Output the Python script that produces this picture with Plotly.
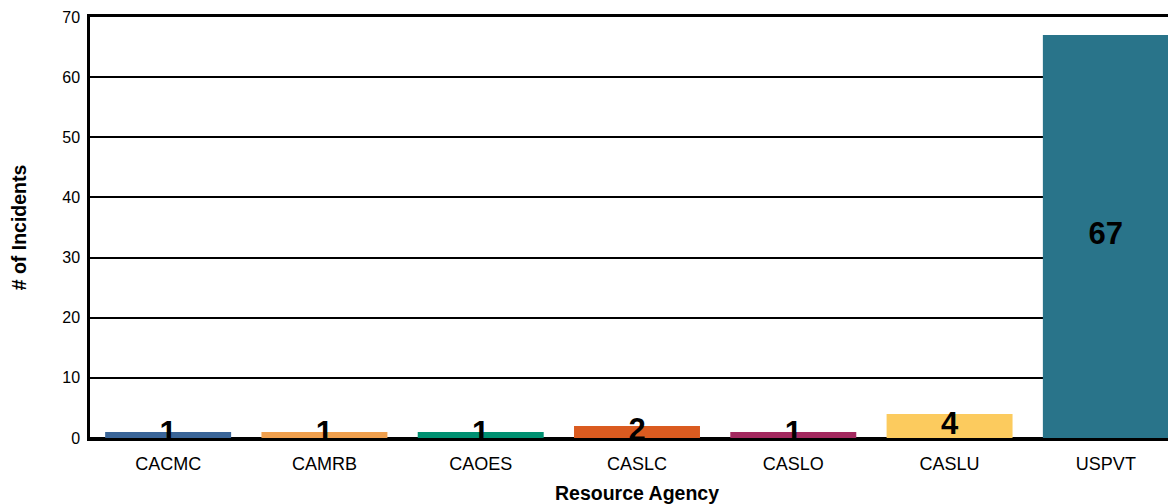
import plotly.graph_objects as go

categories = ["CACMC", "CAMRB", "CAOES", "CASLC", "CASLO", "CASLU", "USPVT"]
values = [1, 1, 1, 2, 1, 4, 67]
colors = ["#3A6598", "#F0A04E", "#009071", "#DA5B20", "#A3295F", "#FCCB5E", "#29748A"]
y_ticks = [0, 10, 20, 30, 40, 50, 60, 70]

fig = go.Figure()
fig.add_trace(go.Bar(
    x=categories, y=values, marker=dict(color=colors, line=dict(width=0)),
    width=0.806, showlegend=False, hoverinfo="x+y",
))
fig.add_trace(go.Scatter(
    x=categories, y=[v / 2 for v in values], mode="text",
    text=[str(v) for v in values],
    textfont=dict(family="Liberation Sans, Arial", size=31, color="black", weight="bold"),
    textposition="middle center", showlegend=False, hoverinfo="skip",
))

# page body has an 8px margin, so the figure is offset by 8px;
# the plot area runs past the right edge of the window as in the reference
fig.update_layout(
    width=1176, height=496,
    margin=dict(l=82, r=0, t=9, b=66),
    paper_bgcolor="white", plot_bgcolor="white",
    font=dict(family="Liberation Sans, Arial", color="black"),
    bargap=0.19,
)
fig.update_xaxes(
    showgrid=False, showline=True, mirror=True, linecolor="black", linewidth=2.5,
    zeroline=False, automargin=False,
    tickfont=dict(size=18), ticks="", ticklabelstandoff=8,
    title=dict(text="<b>Resource Agency</b>", font=dict(size=19.5), standoff=19),
    range=[-0.5, 6.5],
)
fig.update_yaxes(
    range=[0, 70], tickvals=y_ticks, showgrid=True, gridcolor="black", gridwidth=2,
    showline=True, linecolor="black", linewidth=2.5, zeroline=True, zerolinecolor="black",
    zerolinewidth=2.5, ticks="", tickfont=dict(size=16), ticklabelstandoff=4,
    automargin=False,
    title=dict(text="<b># of Incidents</b>", font=dict(size=19.5), standoff=32),
)

fig.write_html("out.html")
